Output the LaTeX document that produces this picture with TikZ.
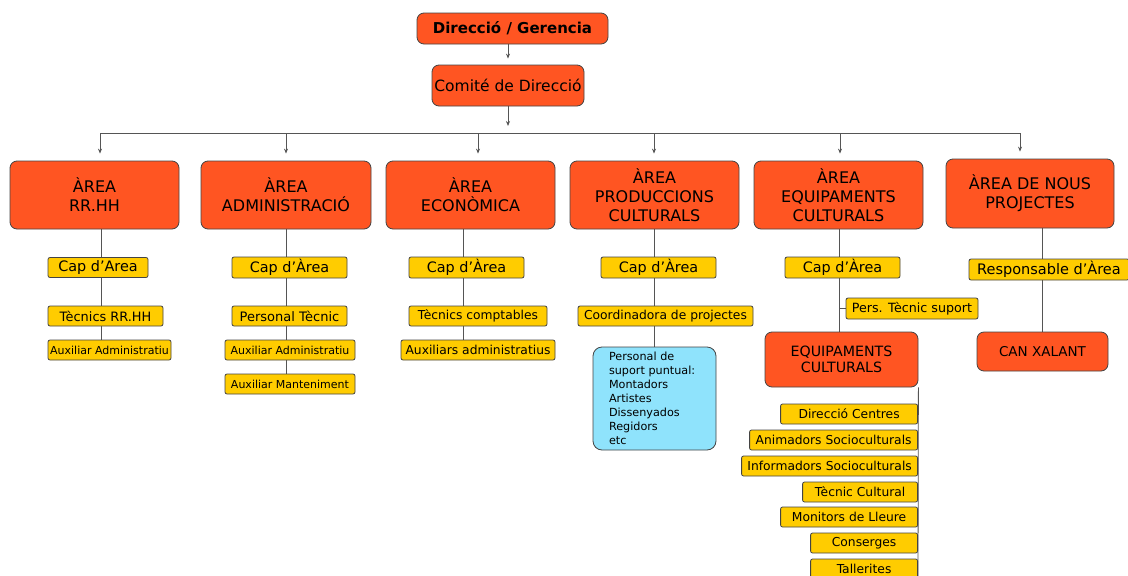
\documentclass[tikz,border=0pt]{standalone}
\usepackage{fontspec}
\setmainfont{DejaVu Sans}
\usetikzlibrary{backgrounds,arrows.meta}
\definecolor{orng}{HTML}{FF5522}
\definecolor{ylw}{HTML}{FFCC00}
\definecolor{blu}{HTML}{8FE3FC}
\definecolor{edge}{HTML}{444444}
\definecolor{conn}{HTML}{555555}
\begin{document}
\begin{tikzpicture}[x=1pt,y=-1pt,
  box/.style={draw=edge, line width=0.8pt, inner sep=0pt, align=center},
  obox/.style={box, fill=orng, rounded corners=7pt},
  areabox/.style={obox, minimum width=169pt, minimum height=68pt, font=\fontsize{16}{19}\selectfont},
  ybox/.style={box, fill=ylw, rounded corners=2pt, minimum height=20pt, font=\fontsize{12.3}{14}\selectfont},
  sybox/.style={ybox, font=\fontsize{11}{13}\selectfont},
  capbox/.style={ybox, minimum height=21pt, minimum width=115pt, font=\fontsize{14.4}{16}\selectfont},
  conline/.style={draw=conn, line width=0.8pt},
  arr/.style={conline, -{Stealth[length=5pt,width=4pt]}, shorten >=7pt}
]
\useasboundingbox (0,0) rectangle (1128,576);

% top
\node[obox, minimum width=191pt, minimum height=31pt, font=\bfseries\fontsize{15}{17}\selectfont] (dg) at (512.5,28.5) {Direcció / Gerencia};
\node[obox, minimum width=152pt, minimum height=41pt, font=\fontsize{15.5}{17}\selectfont] (cd) at (508,85.5) {Comité de Direcció};

% areas
\node[areabox] (a1) at (94.5,195) {ÀREA\\RR.HH};
\node[areabox, minimum width=170pt] (a2) at (286,195) {ÀREA\\ADMINISTRACIÓ};
\node[areabox] (a3) at (470.5,195) {ÀREA\\ECONÒMICA};
\node[areabox] (a4) at (654.5,195) {ÀREA\\PRODUCCIONS\\CULTURALS};
\node[areabox] (a5) at (838.5,195) {ÀREA\\EQUIPAMENTS\\CULTURALS};
\node[areabox, minimum width=168pt, minimum height=69pt] (a6) at (1030,193.5) {ÀREA DE NOUS\\PROJECTES};

% column 1
\node[capbox, minimum width=100pt, minimum height=20pt] (c1) at (98,267.5) {Cap d’Area};
\node[ybox, minimum width=115pt, font=\fontsize{12.9}{14}\selectfont] (t1) at (105.5,316) {Tècnics RR.HH};
\node[sybox, minimum width=123pt] (x1) at (109.5,350) {Auxiliar Administratiu};

% column 2
\node[capbox] (c2) at (289.5,267.5) {Cap d’Àrea};
\node[ybox, minimum width=115pt, font=\fontsize{13}{14}\selectfont] (p2) at (289.5,316) {Personal Tècnic};
\node[sybox, minimum width=130pt] (x2a) at (290,350) {Auxiliar Administratiu};
\node[sybox, minimum width=130pt] (x2b) at (290,384) {Auxiliar Manteniment};

% column 3
\node[capbox] (c3) at (466.5,267.5) {Cap d’Àrea};
\node[ybox, minimum width=138pt] (t3) at (478,316) {Tècnics comptables};
\node[ybox, minimum width=154pt] (x3) at (478,350) {Auxiliars administratius};

% column 4
\node[capbox] (c4) at (658.5,267.5) {Cap d’Àrea};
\node[ybox, minimum width=175pt] (k4) at (665.5,316) {Coordinadora de projectes};
\node[box, fill=blu, rounded corners=9pt, minimum width=123pt, minimum height=103pt, text width=91pt, inner xsep=16pt, align=left, font=\fontsize{11.2}{14}\selectfont] (pb) at (654.5,398.5) {Personal de\\suport puntual:\\Montadors\\Artistes\\Dissenyados\\Regidors\\etc};

% column 5
\node[capbox] (c5) at (842.5,267.5) {Cap d’Àrea};
\node[ybox, minimum width=132pt, minimum height=21pt, font=\fontsize{12.7}{14}\selectfont] (pt5) at (912,308.5) {Pers. Tècnic suport};
\node[obox, minimum width=153pt, minimum height=55pt, font=\fontsize{14.2}{16}\selectfont] (eq) at (841.5,359.5) {EQUIPAMENTS\\CULTURALS};
\node[ybox, anchor=east, minimum width=137pt] (e1) at (918,414) {Direcció Centres};
\node[ybox, anchor=east, minimum width=168pt] (e2) at (918,440) {Animadors Socioculturals};
\node[ybox, anchor=east, minimum width=176pt] (e3) at (918,466) {Informadors Socioculturals};
\node[ybox, anchor=east, minimum width=115pt] (e4) at (918,492) {Tècnic Cultural};
\node[ybox, anchor=east, minimum width=137pt] (e5) at (918,517) {Monitors de Lleure};
\node[ybox, anchor=east, minimum width=107pt] (e6) at (918,543) {Conserges};
\node[ybox, anchor=east, minimum width=107pt] (e7) at (918,569) {Tallerites};

% column 6
\node[capbox, minimum width=160pt, font=\fontsize{14.5}{16}\selectfont] (r6) at (1049,269.5) {Responsable d’Àrea};
\node[obox, minimum width=131pt, minimum height=39pt, font=\fontsize{13.5}{15}\selectfont] (can) at (1042.5,351.5) {CAN XALANT};

% helper coordinates
\coordinate (busC) at (508,126);
\coordinate (bus1) at (100,133);
\coordinate (bus2) at (286,133);
\coordinate (bus3) at (478,133);
\coordinate (bus4) at (654,133);
\coordinate (bus5) at (840,133);
\coordinate (bus6) at (1020,133);
\coordinate (l1) at (101,0);
\coordinate (l2) at (286,0);
\coordinate (l3) at (463,0);
\coordinate (l4) at (654,0);
\coordinate (l5) at (839,0);
\coordinate (l6) at (1042,0);
\coordinate (eqend) at (918,576);

\begin{scope}[on background layer]
\fill[white] (0,0) rectangle (1128,576);
\draw[arr, shorten >=6pt] (cd.north |- dg.south) -- (cd.north);
\draw[arr, shorten >=0pt] (cd.south) -- (busC);
\draw[conline] (bus1) -- (bus6);
\foreach \i in {1,...,6} {\draw[arr] (bus\i) -- (bus\i |- a\i.north);}
\draw[conline] (l1 |- a1.south) -- (l1 |- x1.north);
\draw[conline] (l2 |- a2.south) -- (l2 |- x2b.north);
\draw[conline] (l3 |- a3.south) -- (l3 |- x3.north);
\draw[conline] (l4 |- a4.south) -- (l4 |- pb.north);
\draw[conline] (l5 |- a5.south) -- (l5 |- eq.north);
\draw[conline] (l5 |- pt5.west) -- (pt5.west);
\draw[conline] (l6 |- a6.south) -- (l6 |- can.north);
\draw[conline] (eq.south east) -- (eqend);
\end{scope}
\end{tikzpicture}
\end{document}
